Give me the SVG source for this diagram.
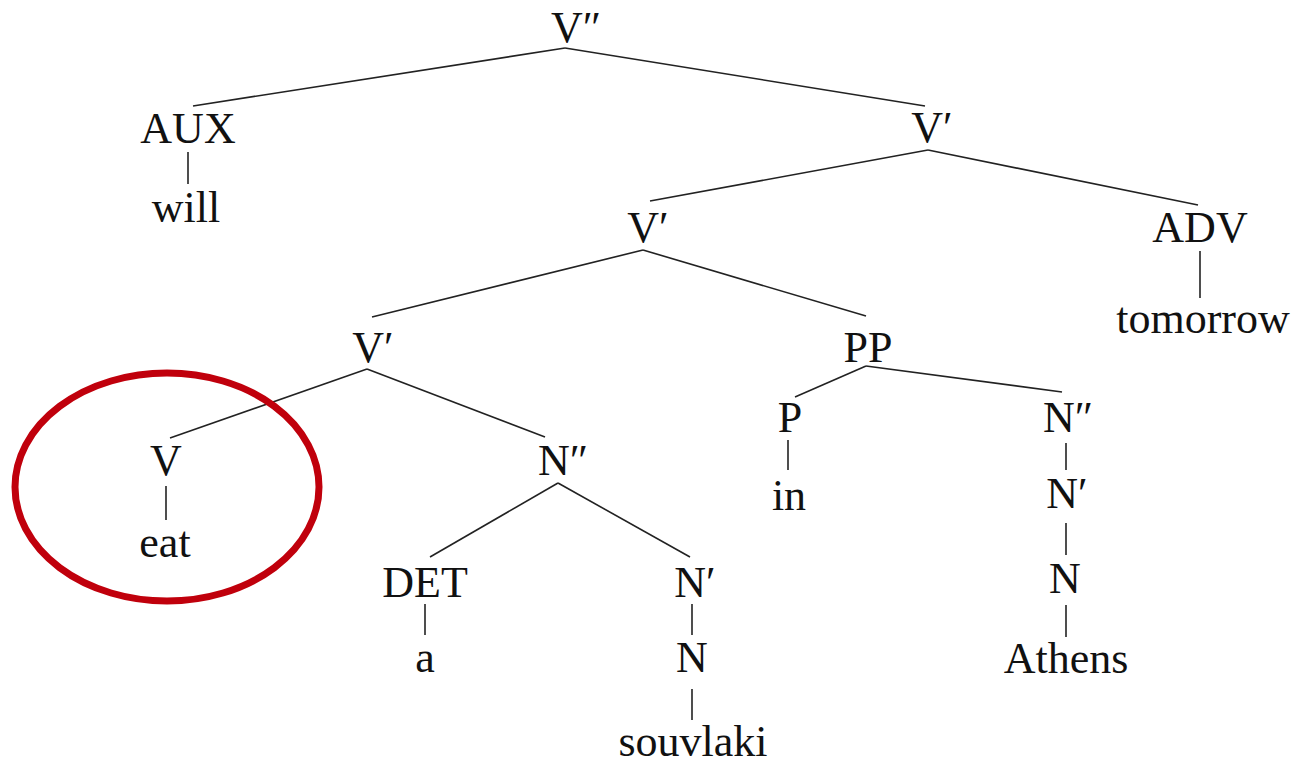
<svg xmlns="http://www.w3.org/2000/svg" width="1295" height="765" viewBox="0 0 1295 765">
<style>
text{font-family:"Liberation Serif","Times New Roman",serif;font-size:44px;fill:#111;text-anchor:middle}
.e line{stroke:#222;stroke-width:1.6;fill:none}
</style>
<rect width="1295" height="765" fill="#fff"/>
<g id="connectors" class="e">
<line x1="565" y1="48" x2="193" y2="106"/>
<line x1="565" y1="48" x2="925" y2="106"/>
<line x1="188" y1="152" x2="188" y2="184"/>
<line x1="928" y1="150" x2="650" y2="201"/>
<line x1="928" y1="150" x2="1198" y2="205"/>
<line x1="1200" y1="251" x2="1200" y2="298"/>
<line x1="643" y1="250" x2="372" y2="317"/>
<line x1="643" y1="250" x2="866" y2="316"/>
<line x1="367" y1="369" x2="170" y2="438"/>
<line x1="367" y1="369" x2="545" y2="437"/>
<line x1="166" y1="486" x2="166" y2="520"/>
<line x1="558" y1="483" x2="430" y2="557"/>
<line x1="558" y1="483" x2="690" y2="557"/>
<line x1="425" y1="604" x2="425" y2="635"/>
<line x1="692" y1="604" x2="692" y2="635"/>
<line x1="692" y1="689" x2="692" y2="720"/>
<line x1="866" y1="366" x2="795" y2="397"/>
<line x1="866" y1="366" x2="1062" y2="392"/>
<line x1="788" y1="440" x2="788" y2="470"/>
<line x1="1066" y1="443" x2="1066" y2="470"/>
<line x1="1066" y1="523" x2="1066" y2="555"/>
<line x1="1066" y1="605" x2="1066" y2="637"/>
</g>
<g id="n-Vbar2"><text x="576" y="42">V″</text></g>
<g id="n-AUX"><text x="188" y="143">AUX</text></g>
<g id="n-will"><text x="186" y="222">will</text></g>
<g id="n-Vbar-a"><text x="932" y="142">V′</text></g>
<g id="n-ADV"><text x="1200" y="242">ADV</text></g>
<g id="n-tomorrow"><text x="1203" y="333">tomorrow</text></g>
<g id="n-Vbar-b"><text x="648" y="242">V′</text></g>
<g id="n-Vbar-c"><text x="373" y="362">V′</text></g>
<g id="n-PP"><text x="868" y="362">PP</text></g>
<g id="n-V"><text x="166" y="475">V</text></g>
<g id="n-eat"><text x="165" y="557">eat</text></g>
<g id="n-Nbar2-a"><text x="563" y="475">N″</text></g>
<g id="n-DET"><text x="425" y="597">DET</text></g>
<g id="n-a"><text x="425" y="672">a</text></g>
<g id="n-Nbar-a"><text x="695" y="597">N′</text></g>
<g id="n-N-a"><text x="692" y="672">N</text></g>
<g id="n-souvlaki"><text x="693" y="756">souvlaki</text></g>
<g id="n-P"><text x="790" y="432">P</text></g>
<g id="n-in"><text x="789" y="510">in</text></g>
<g id="n-Nbar2-b"><text x="1068" y="432">N″</text></g>
<g id="n-Nbar-b"><text x="1067" y="508">N′</text></g>
<g id="n-N-b"><text x="1065" y="593">N</text></g>
<g id="n-Athens"><text x="1066" y="673">Athens</text></g>
<g id="highlight"><ellipse cx="167" cy="487" rx="152" ry="114" fill="none" stroke="#c0000c" stroke-width="7"/></g>
</svg>
